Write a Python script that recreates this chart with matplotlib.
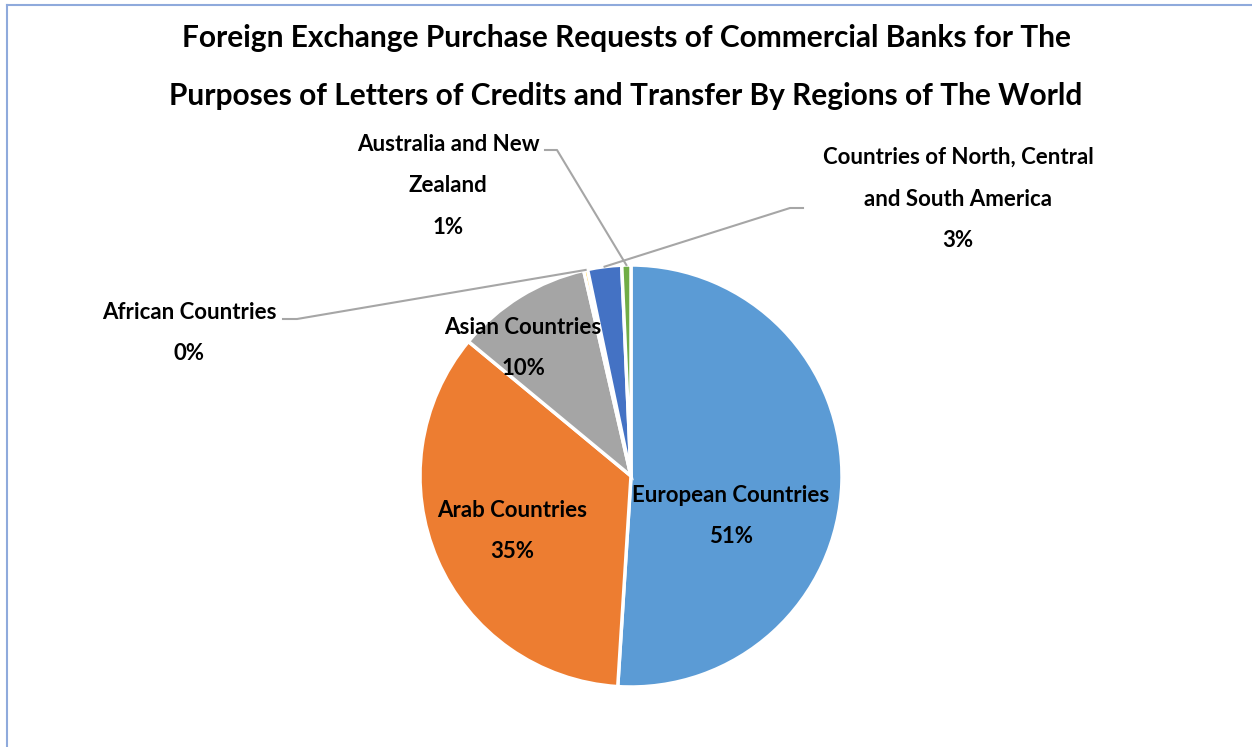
import numpy as np
import matplotlib.pyplot as plt
from matplotlib.lines import Line2D

plt.rcParams['font.family'] = ['Lato', 'DejaVu Sans']

# data
regions = ['European Countries', 'Arab Countries', 'Asian Countries',
           'African Countries', 'Countries of North, Central\nand South America',
           'Australia and New\nZealand']
shares = [51.0, 35.0, 10.4, 0.3, 2.6, 0.7]
colors = ['#5b9bd5', '#ed7d31', '#a5a5a5', '#ffc000', '#4472c4', '#70ad47']

title = ('Foreign Exchange Purchase Requests of Commercial Banks for The\n'
         'Purposes of Letters of Credits and Transfer By Regions of The World')

W, H = 1252, 747
fig = plt.figure(figsize=(W / 100, H / 100), dpi=100)
ax = fig.add_axes([0, 0, 1, 1])

cx, cy, r = 631, H - 476, 211
wedges, _ = ax.pie(shares, colors=colors, startangle=90, counterclock=False,
                   center=(cx, cy), radius=r, frame=True,
                   wedgeprops=dict(edgecolor='white', linewidth=2.5))
ax.set_xlim(0, W)
ax.set_ylim(0, H)
ax.set_aspect('equal')
ax.axis('off')

total = sum(shares)
pct = [f'{round(s / total * 100):.0f}%' for s in shares]

lbl = dict(fontsize=16, fontweight='bold', ha='center', va='center',
           linespacing=2.2, color='black')

# labels inside the pie
inside = {0: (731, 516), 1: (512, 531), 2: (523, 348)}
for i, (x, y) in inside.items():
    ax.text(x, H - y, regions[i] + '\n' + pct[i], **lbl)

# outside labels with leader lines
outside = {3: ((189, 333), (283, 319), (297, 319)),
           4: ((958, 199), (803, 208), (790, 208)),
           5: ((448, 186), (545, 150), (557, 150))}
for i, ((x, y), (x0, y0), (x1, y1)) in outside.items():
    ax.text(x, H - y, regions[i] + '\n' + pct[i], **lbl)
    w = wedges[i]
    mid = np.deg2rad((w.theta1 + w.theta2) / 2)
    px, py = cx + r * np.cos(mid), cy + r * np.sin(mid)
    ax.add_line(Line2D([x0, x1, px], [H - y0, H - y1, py],
                       color='#a6a6a6', lw=1.5))

fig.text(0.5, 1 - 67 / H, title, fontsize=21.5, fontweight='bold',
         ha='center', va='center', linespacing=2.28)

# chart frame
fig.add_artist(Line2D([7 / W, 7 / W], [0, 1 - 5 / H], transform=fig.transFigure,
                      color='#8faadc', lw=1.5))
fig.add_artist(Line2D([7 / W, 1], [1 - 5 / H, 1 - 5 / H], transform=fig.transFigure,
                      color='#8faadc', lw=1.5))

fig.savefig('out.png', dpi=100)
